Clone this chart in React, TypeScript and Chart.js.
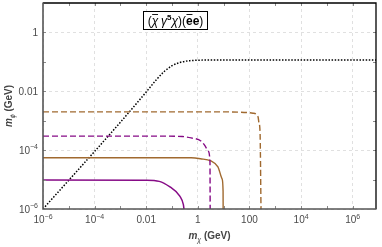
import React, { useEffect, useRef } from "react";
import { Chart, registerables } from "chart.js";
Chart.register(...registerables);

// ---- axis ranges & tick labels ----
const X_MIN = 1e-6;
const X_MAX = 8e6;
const Y_MIN = 1e-6;
const Y_MAX = 10;
const X_TICKS = [1e-6, 1e-4, 1e-2, 1, 100, 1e4, 1e6];
const Y_TICKS = [1e-6, 1e-4, 1e-2, 1];

// ---- series ----
const blackX = [1e-6, 1e-3, 1e-2, 2.5e-2, 5e-2, 0.1, 0.2, 0.5, 3.2, 8e6];
const blackY = [1e-6, 8.9e-4, 9.5e-3, 2.5e-2, 4.7e-2, 7.4e-2, 9.5e-2, 0.11, 0.115, 0.115];

const purpleSolidX = [1e-6, 1e-2, 3.2e-2, 8.3e-2, 0.2, 0.275, 0.29];
const purpleSolidY = [9.7e-6, 9.5e-6, 8.7e-6, 5.6e-6, 2.75e-6, 1.4e-6, 1e-6];

const purpleDashX = [1e-6, 3.2e-2, 0.25, 0.55, 1.32, 2.0, 2.5, 2.95, 3.0];
const purpleDashY = [3.0e-4, 3.0e-4, 2.9e-4, 2.6e-4, 2.05e-4, 1.3e-4, 9.3e-5, 4e-5, 1e-6];

const brownSolidX = [1e-6, 0.1, 0.55, 1.26, 3.2, 6.0, 8.7, 9.5, 9.55];
const brownSolidY = [5.5e-5, 5.5e-5, 5.5e-5, 5.1e-5, 4.3e-5, 2.7e-5, 1.05e-5, 4e-6, 1e-6];

const brownDashX = [1e-6, 10, 47, 138, 215, 234, 257, 280];
const brownDashY = [2e-3, 2e-3, 1.95e-3, 1.8e-3, 1.35e-3, 8.3e-4, 4.2e-4, 1e-6];

const PURPLE = "#860a86";
const BROWN = "#a0692f";
const FONT = "'Liberation Sans', Arial, sans-serif";
const LABEL_COLOR = "#4a4a4a";

function tickParts(v: number): { base: string; exp: string } {
  const e = Math.round(Math.log10(v));
  if (e === 0) return { base: "1", exp: "" };
  if (e === -2) return { base: "0.01", exp: "" };
  if (e === 2) return { base: "100", exp: "" };
  return { base: "10", exp: String(e).replace("-", "\u2212") };
}

function pts(xs: number[], ys: number[]) {
  return xs.map((x, i) => ({ x, y: ys[i] }));
}

type Part = { t: string; font: string; dy?: number; over?: boolean };

function measureParts(ctx: CanvasRenderingContext2D, parts: Part[]) {
  let total = 0;
  for (const p of parts) {
    ctx.font = p.font;
    total += ctx.measureText(p.t).width;
  }
  return total;
}

function drawPartsAt(ctx: CanvasRenderingContext2D, parts: Part[], x0: number, y: number, overY = 10) {
  let x = x0;
  ctx.textAlign = "left";
  ctx.textBaseline = "alphabetic";
  for (const p of parts) {
    ctx.font = p.font;
    const w = ctx.measureText(p.t).width;
    ctx.fillText(p.t, x, y + (p.dy || 0));
    if (p.over) {
      ctx.save();
      ctx.lineWidth = 0.9;
      ctx.strokeStyle = ctx.fillStyle as string;
      ctx.beginPath();
      ctx.moveTo(x + 0.5, y - overY);
      ctx.lineTo(x + w - 0.2, y - overY);
      ctx.stroke();
      ctx.restore();
    }
    x += w;
  }
}

function drawParts(ctx: CanvasRenderingContext2D, parts: Part[], cx: number, y: number, overY = 10) {
  const total = measureParts(ctx, parts);
  drawPartsAt(ctx, parts, cx - total / 2, y, overY);
}

function labelParts(v: number): Part[] {
  const { base, exp } = tickParts(v);
  const parts: Part[] = [{ t: base, font: `10px ${FONT}` }];
  if (exp) parts.push({ t: exp, font: `7px ${FONT}`, dy: -4.5 });
  return parts;
}

const decorPlugin = {
  id: "decor",
  afterDraw(chart: any) {
    const ctx: CanvasRenderingContext2D = chart.ctx;
    const { left, right, top, bottom } = chart.chartArea;
    const xs = chart.scales.x;
    const ys = chart.scales.y;
    ctx.save();

    // inner decade ticks
    ctx.strokeStyle = "#8a8a8a";
    ctx.lineWidth = 1;
    for (let e = -6; e <= 6; e++) {
      const px = Math.round(xs.getPixelForValue(Math.pow(10, e))) + 0.5;
      if (px <= left + 1 || px >= right - 1) continue;
      ctx.beginPath();
      ctx.moveTo(px, bottom);
      ctx.lineTo(px, bottom - 3);
      ctx.moveTo(px, top);
      ctx.lineTo(px, top + 3);
      ctx.stroke();
    }
    for (let e = -6; e <= 1; e++) {
      const py = Math.round(ys.getPixelForValue(Math.pow(10, e))) + 0.5;
      if (py <= top + 1 || py >= bottom - 1) continue;
      ctx.beginPath();
      ctx.moveTo(left, py);
      ctx.lineTo(left + 3, py);
      ctx.moveTo(right, py);
      ctx.lineTo(right - 3, py);
      ctx.stroke();
    }

    // frame
    ctx.strokeStyle = "#000";
    ctx.lineWidth = 1.3;
    ctx.beginPath();
    ctx.moveTo(left, top);
    ctx.lineTo(right, top);
    ctx.lineTo(right, bottom);
    ctx.stroke();
    ctx.strokeStyle = "#555";
    ctx.lineWidth = 1.6;
    ctx.beginPath();
    ctx.moveTo(left, top - 0.6);
    ctx.lineTo(left, bottom);
    ctx.lineTo(right + 0.6, bottom);
    ctx.stroke();

    // tick labels
    ctx.fillStyle = LABEL_COLOR;
    for (const v of X_TICKS) {
      const px = xs.getPixelForValue(v);
      drawParts(ctx, labelParts(v), px, bottom + 14);
    }
    for (const v of Y_TICKS) {
      const py = ys.getPixelForValue(v);
      const parts = labelParts(v);
      const w = measureParts(ctx, parts);
      drawPartsAt(ctx, parts, left - 5 - w, py + 3.5);
    }

    // legend box
    const bx = 143.5, by = 11.5, bw = 64, bh = 18;
    ctx.fillStyle = "#fff";
    ctx.fillRect(bx, by, bw, bh);
    ctx.strokeStyle = "#000";
    ctx.lineWidth = 1;
    ctx.strokeRect(bx, by, bw, bh);
    ctx.fillStyle = "#000";
    const n = `12px ${FONT}`;
    const it = `italic 12px ${FONT}`;
    const b = `bold 12px ${FONT}`;
    drawParts(ctx, [
      { t: "(", font: n },
      { t: "\u03C7", font: it, over: true },
      { t: " ", font: `10px ${FONT}` },
      { t: "\u03B3", font: it },
      { t: "5", font: `bold 8px ${FONT}`, dy: -5 },
      { t: "\u03C7", font: it },
      { t: ")(", font: n },
      { t: "e", font: b, over: true },
      { t: "e", font: b },
      { t: ")", font: n },
    ], bx + bw / 2, by + 13.5, 10.5);

    // axis titles
    ctx.fillStyle = "#444";
    const tb = `bold 10px ${FONT}`;
    const ti = `italic bold 10px ${FONT}`;
    const ts = `italic 7px ${FONT}`;
    drawParts(ctx, [
      { t: "m", font: ti },
      { t: "\u03C7", font: ts, dy: 2.5 },
      { t: " (GeV)", font: tb },
    ], (left + right) / 2, 239);

    ctx.save();
    ctx.translate(12, (top + bottom) / 2);
    ctx.rotate(-Math.PI / 2);
    drawParts(ctx, [
      { t: "m", font: ti },
      { t: "\u03D5", font: ts, dy: 2.5 },
      { t: " (GeV)", font: tb },
    ], 0, 0);
    ctx.restore();

    ctx.restore();
  },
};

export default function App() {
  const ref = useRef<HTMLCanvasElement | null>(null);

  useEffect(() => {
    if (!ref.current) return;
    const line = (xs: number[], ys: number[], color: string, dash: number[], width: number) => ({
      data: pts(xs, ys),
      borderColor: color,
      backgroundColor: color,
      borderWidth: width,
      borderDash: dash,
      pointRadius: 0,
      fill: false,
      tension: 0,
      cubicInterpolationMode: "monotone" as const,
    });
    const chart = new Chart(ref.current, {
      type: "line",
      data: {
        datasets: [
          line(brownDashX, brownDashY, BROWN, [6, 3], 1.4),
          line(purpleDashX, purpleDashY, PURPLE, [6, 3], 1.4),
          line(brownSolidX, brownSolidY, BROWN, [], 1.4),
          line(purpleSolidX, purpleSolidY, PURPLE, [], 1.5),
          line(blackX, blackY, "#000", [1.5, 1.6], 1.5),
        ],
      },
      options: {
        animation: false,
        responsive: false,
        maintainAspectRatio: false,
        parsing: false as any,
        layout: { padding: { left: 0, right: 6, top: 3, bottom: 0 } },
        plugins: { legend: { display: false }, tooltip: { enabled: false } },
        scales: {
          x: {
            type: "logarithmic",
            min: X_MIN,
            max: X_MAX,
            bounds: "data",
            afterBuildTicks: (s: any) => {
              s.ticks = X_TICKS.map((v) => ({ value: v }));
            },
            afterFit: (s: any) => {
              s.height = 38;
              s.paddingLeft = 0;
              s.paddingRight = 0;
              s.paddingTop = 0;
              s.paddingBottom = 0;
            },
            ticks: { display: false, autoSkip: false },
            grid: { color: "#e0e0e0", lineWidth: 1, drawTicks: false },
            border: { display: false, dash: [3, 3] },
          },
          y: {
            type: "logarithmic",
            min: Y_MIN,
            max: Y_MAX,
            bounds: "data",
            afterBuildTicks: (s: any) => {
              s.ticks = Y_TICKS.map((v) => ({ value: v }));
            },
            afterFit: (s: any) => {
              s.width = 43;
              s.paddingLeft = 0;
              s.paddingRight = 0;
              s.paddingTop = 0;
              s.paddingBottom = 0;
            },
            ticks: { display: false, autoSkip: false },
            grid: { color: "#e0e0e0", lineWidth: 1, drawTicks: false },
            border: { display: false, dash: [3, 3] },
          },
        },
      },
      plugins: [decorPlugin],
    });
    return () => chart.destroy();
  }, []);

  return (
    <div style={{ position: "fixed", left: 0, top: 0, width: 382, height: 247, background: "#fff" }}>
      <canvas ref={ref} width={382} height={247} style={{ display: "block" }} />
    </div>
  );
}
